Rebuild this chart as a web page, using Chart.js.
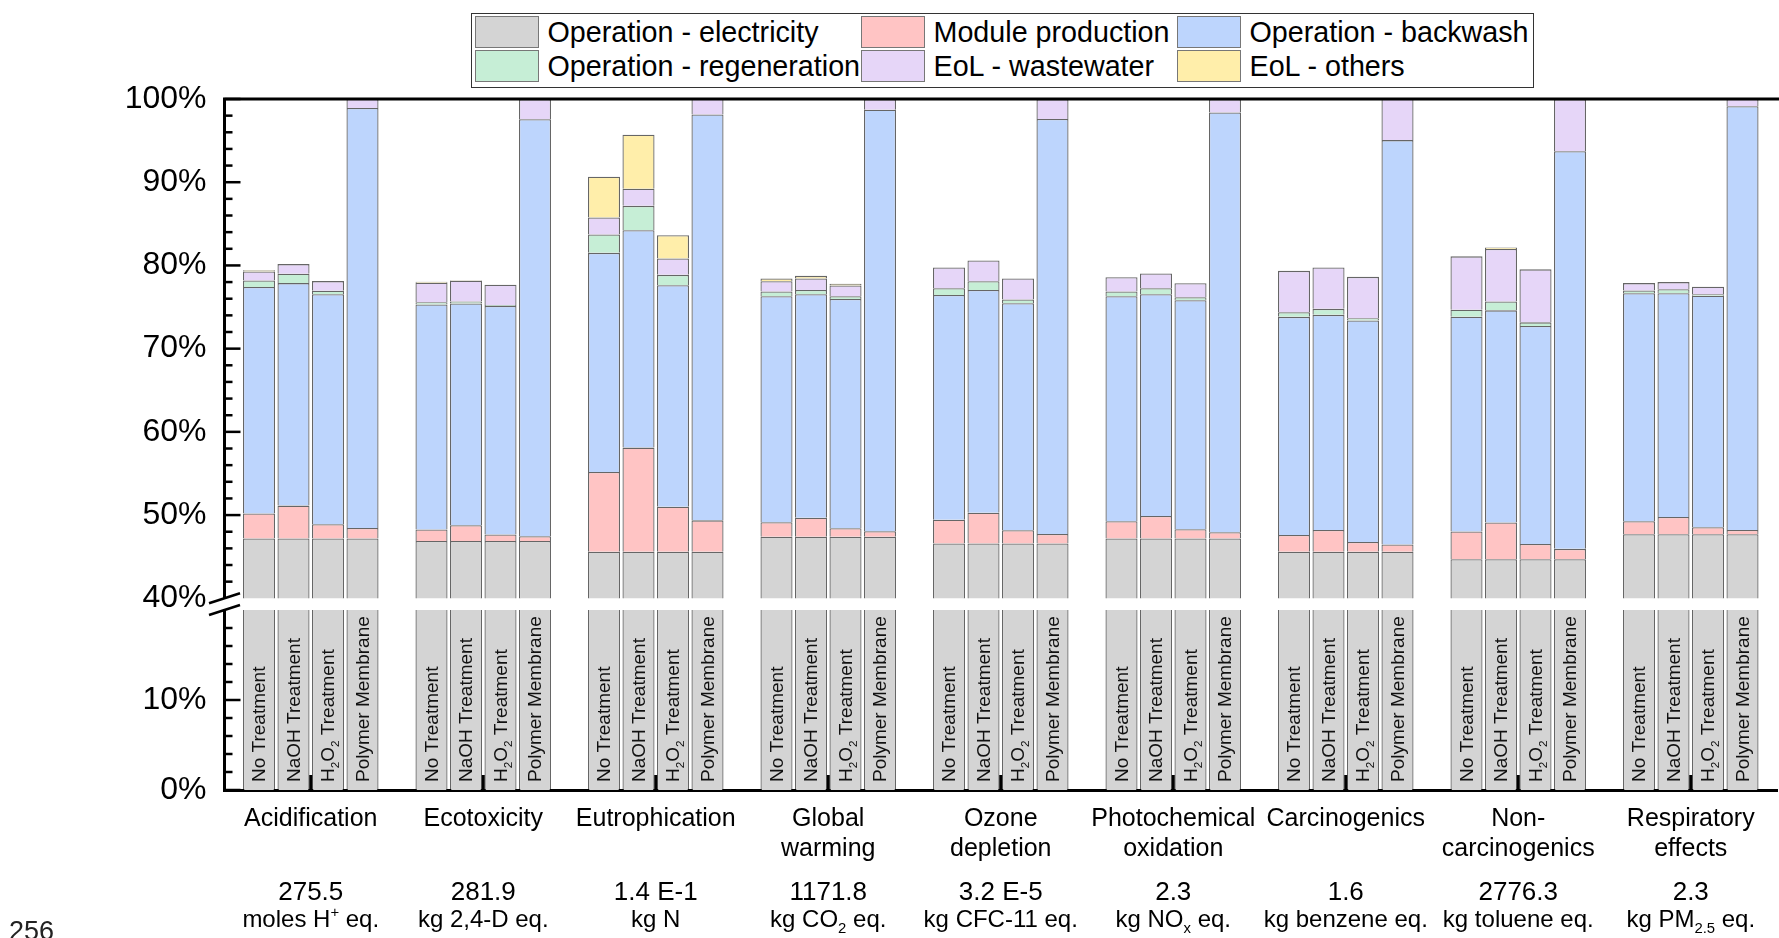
<!DOCTYPE html>
<html>
<head>
<meta charset="utf-8">
<script src="https://cdn.jsdelivr.net/npm/chart.js@4.4.1/dist/chart.umd.min.js"></script>
<style>
  html, body { margin: 0; padding: 0; background: #fff; }
  body { width: 1779px; height: 938px; position: relative; overflow: hidden; font-family: 'Liberation Sans', Arial, sans-serif; }
  #topChart { position: absolute; left: 0; top: 0; }
  #bottomChart { position: absolute; left: 0; top: 560px; }
  .legend { position: absolute; left: 471px; top: 13px; width: 1063px; height: 75px; border: 1.5px solid #333; box-sizing: border-box; background: #fff; }
  .legend .sw { position: absolute; width: 64px; height: 32px; border: 1.5px solid #777; box-sizing: border-box; }
  .legend .tx { position: absolute; font-size: 28.7px; line-height: 33px; color: #000; white-space: nowrap; }
  .page-no { position: absolute; left: 9px; top: 918px; font-size: 27px; line-height: 27px; color: #222; }
</style>
</head>
<body>
<canvas id="topChart" width="1779" height="640"></canvas>
<canvas id="bottomChart" width="1779" height="378"></canvas>
<div class="legend" id="legend"></div>
<div class="page-no">256</div>
<script>
const FONT = "'Liberation Sans', Arial, sans-serif";
Chart.defaults.font.family = FONT;

const categories = [['Acidification'], ['Ecotoxicity'], ['Eutrophication'], ['Global', 'warming'], ['Ozone', 'depletion'],
    ['Photochemical', 'oxidation'], ['Carcinogenics'], ['Non-', 'carcinogenics'], ['Respiratory', 'effects']];
const totals = ['275.5', '281.9', '1.4 E-1', '1171.8', '3.2 E-5', '2.3', '1.6', '2776.3', '2.3'];
const units = ['moles H<sup>+</sup> eq.', 'kg 2,4-D eq.', 'kg N', 'kg CO<sub>2</sub> eq.', 'kg CFC-11 eq.',
    'kg NO<sub>x</sub> eq.', 'kg benzene eq.', 'kg toluene eq.', 'kg PM<sub>2.5</sub> eq.'];
const treatments = ['No Treatment', 'NaOH Treatment', 'H<sub>2</sub>O<sub>2</sub> Treatment', 'Polymer Membrane'];
const components = ['Operation - electricity', 'Module production', 'Operation - backwash',
    'Operation - regeneration', 'EoL - wastewater', 'EoL - others'];
const colors = ['#d4d4d4', '#ffc4c4', '#bdd5fd', '#c6eed6', '#e6d6f8', '#ffeeaa'];

// share in % ; one row per impact category, one column per treatment
const electricity = [
    [47.2, 47.2, 47.2, 47.2], [46.9, 46.9, 46.9, 46.9], [45.6, 45.6, 45.6, 45.6],
    [47.4, 47.4, 47.4, 47.4], [46.6, 46.6, 46.6, 46.6], [47.2, 47.2, 47.2, 47.2],
    [45.6, 45.6, 45.6, 45.6], [44.7, 44.7, 44.7, 44.7], [47.7, 47.7, 47.7, 47.7]];
const moduleProduction = [
    [3.0, 3.94, 1.7, 1.26], [1.37, 1.89, 0.77, 0.57], [9.58, 12.51, 5.41, 3.77],
    [1.73, 2.29, 1.01, 0.65], [2.85, 3.69, 1.57, 1.13], [2.05, 2.69, 1.09, 0.73],
    [2.01, 2.61, 1.16, 0.88], [3.33, 4.41, 1.84, 1.24], [1.56, 2.08, 0.84, 0.52]];
const backwash = [
    [27.2, 26.74, 27.65, 50.46], [27.05, 26.65, 27.45, 50.1], [26.33, 26.13, 26.62, 48.78],
    [27.17, 26.85, 27.57, 50.66], [27.01, 26.77, 27.29, 49.86], [27.05, 26.65, 27.53, 50.46],
    [26.21, 25.85, 26.62, 48.58], [25.81, 25.49, 26.18, 47.78], [27.41, 26.89, 27.81, 50.9]];
const regeneration = [
    [0.8, 1.12, 0.4, 0], [0.25, 0.24, 0.12, 0], [2.21, 2.92, 1.24, 0],
    [0.56, 0.52, 0.32, 0], [0.8, 1.05, 0.44, 0], [0.56, 0.72, 0.36, 0],
    [0.56, 0.72, 0.28, 0], [0.84, 1.08, 0.44, 0], [0.32, 0.48, 0.2, 0]];
const wastewater = [
    [1.08, 1.16, 1.17, 1.08], [2.36, 2.49, 2.45, 2.4], [2.04, 2.05, 1.96, 1.88],
    [1.25, 1.37, 1.29, 1.28], [2.49, 2.48, 2.53, 2.4], [1.73, 1.77, 1.69, 1.6],
    [4.97, 4.97, 4.97, 4.97], [6.41, 6.29, 6.37, 6.25], [0.89, 0.85, 0.88, 0.88]];
const others = [
    [0.15, 0, 0, 0], [0.12, 0.05, 0, 0], [4.89, 6.49, 2.81, 0],
    [0.32, 0.32, 0.2, 0], [0, 0, 0, 0], [0, 0, 0, 0],
    [0, 0, 0, 0], [0, 0.2, 0, 0], [0, 0, 0, 0]];
const shares = [electricity, moduleProduction, backwash, regeneration, wastewater, others];

function makeDatasets() {
    const list = [];
    treatments.forEach((t, ti) => {
        shares.forEach((rows, ci) => {
            list.push({
                label: components[ci],
                stack: 's' + ti,
                data: rows.map(r => r[ti]),
                backgroundColor: colors[ci],
                borderColor: 'rgba(0,0,0,0.6)',
                borderWidth: 1.3,
                clip: 0
            });
        });
    });
    return list;
}

// legend (3 columns x 2 rows)
const legendEl = document.getElementById('legend');
const colX = [2.5, 388.5, 704.5];
const rowY = [1.5, 36];
components.forEach((name, i) => {
    const c = i % 3, r = Math.floor(i / 3);
    const sw = document.createElement('div');
    sw.className = 'sw';
    sw.style.left = colX[c] + 'px';
    sw.style.top = rowY[r] + 'px';
    sw.style.background = colors[i];
    const tx = document.createElement('div');
    tx.className = 'tx';
    tx.style.left = (colX[c] + 73) + 'px';
    tx.style.top = rowY[r] + 'px';
    tx.textContent = name;
    legendEl.appendChild(sw);
    legendEl.appendChild(tx);
});

// text with <sub>/<sup> parts
function parseRich(str) {
    const parts = [];
    const re = /<(sub|sup)>(.*?)<\/\1>/g;
    let last = 0, m;
    while ((m = re.exec(str))) {
        if (m.index > last) parts.push({ text: str.slice(last, m.index), mode: '' });
        parts.push({ text: m[2], mode: m[1] });
        last = re.lastIndex;
    }
    if (last < str.length) parts.push({ text: str.slice(last), mode: '' });
    return parts;
}
function drawRich(ctx, str, x, y, size, align) {
    const parts = parseRich(str);
    const fontOf = p => (p.mode ? size * 0.62 : size) + 'px ' + FONT;
    const widths = parts.map(p => { ctx.font = fontOf(p); return ctx.measureText(p.text).width; });
    const total = widths.reduce((a, b) => a + b, 0);
    let cx = align === 'center' ? x - total / 2 : x;
    ctx.textAlign = 'left';
    ctx.textBaseline = 'alphabetic';
    parts.forEach((p, i) => {
        ctx.font = fontOf(p);
        const dy = p.mode === 'sub' ? size * 0.28 : (p.mode === 'sup' ? -size * 0.38 : 0);
        ctx.fillText(p.text, cx, y + dy);
        cx += widths[i];
    });
}

const decor = {
    id: 'decor',
    afterDraw(chart, args, opts) {
        const { ctx, chartArea: a } = chart;
        const x = chart.scales.x, y = chart.scales.y;
        ctx.save();
        ctx.strokeStyle = '#000';
        ctx.fillStyle = '#000';
        ctx.lineWidth = 2.5;
        // inward ticks on the y axis
        for (let v = y.min; v <= y.max; v += 2) {
            if (opts.part === 'top' && v === y.min) continue;
            if (opts.part === 'bottom' && v === y.max) continue;
            const py = y.getPixelForValue(v);
            const len = v % 10 === 0 ? 16 : 8;
            ctx.beginPath(); ctx.moveTo(a.left, py); ctx.lineTo(a.left + len, py); ctx.stroke();
        }
        // axis break mark
        const by = opts.part === 'top' ? a.bottom : a.top;
        ctx.beginPath(); ctx.moveTo(a.left - 15.5, by + 5); ctx.lineTo(a.left + 15.5, by - 5); ctx.stroke();

        if (opts.part === 'top') {
            ctx.lineWidth = 3;
            ctx.beginPath(); ctx.moveTo(a.left - 1.5, a.top); ctx.lineTo(chart.width, a.top); ctx.stroke();
        } else {
            // category ticks pointing inside
            ctx.lineWidth = 3;
            categories.forEach((c, i) => {
                const px = x.getPixelForValue(i);
                ctx.beginPath(); ctx.moveTo(px, a.bottom); ctx.lineTo(px, a.bottom - 15); ctx.stroke();
            });
            // treatment names inside the bars
            ctx.fillStyle = '#111';
            treatments.forEach((t, ti) => {
                const meta = chart.getDatasetMeta(ti * shares.length);
                meta.data.forEach(bar => {
                    ctx.save();
                    ctx.translate(bar.x + 6, a.bottom - 8);
                    ctx.rotate(-Math.PI / 2);
                    drawRich(ctx, t, 0, 0, 19, 'left');
                    ctx.restore();
                });
            });
            // totals and units under the category names
            ctx.fillStyle = '#000';
            categories.forEach((c, i) => {
                const px = x.getPixelForValue(i);
                drawRich(ctx, totals[i], px, a.bottom + 110, 26, 'center');
                drawRich(ctx, units[i], px, a.bottom + 136.5, 24, 'center');
            });
        }
        ctx.restore();
    }
};

const yTicks = { stepSize: 10, padding: 18, color: '#000', font: { family: FONT, size: 32 }, callback: v => v + '%' };

new Chart(document.getElementById('topChart'), {
    type: 'bar',
    data: { labels: categories, datasets: makeDatasets() },
    options: {
        responsive: false,
        animation: false,
        layout: { padding: { top: 99, bottom: 41.7, left: 0, right: 2 } },
        datasets: { bar: { categoryPercentage: 0.8, barPercentage: 0.93 } },
        plugins: { legend: { display: false }, tooltip: { enabled: false }, decor: { part: 'top' } },
        scales: {
            x: { stacked: true, display: false },
            y: {
                stacked: true, min: 40, max: 100,
                afterFit: s => { s.width = 224.5; },
                grid: { display: false, drawTicks: false },
                border: { display: true, color: '#000', width: 3 },
                ticks: yTicks
            }
        }
    },
    plugins: [decor]
});

new Chart(document.getElementById('bottomChart'), {
    type: 'bar',
    data: { labels: categories, datasets: makeDatasets() },
    options: {
        responsive: false,
        animation: false,
        layout: { padding: { top: 50, bottom: 0, left: 0, right: 2 } },
        datasets: { bar: { categoryPercentage: 0.8, barPercentage: 0.93 } },
        plugins: { legend: { display: false }, tooltip: { enabled: false }, decor: { part: 'bottom' } },
        scales: {
            x: {
                stacked: true,
                afterFit: s => { s.height = 148; },
                grid: { display: false, drawTicks: false },
                border: { display: true, color: '#000', width: 3 },
                ticks: { color: '#000', padding: 14, maxRotation: 0, minRotation: 0, autoSkip: false,
                    font: { family: FONT, size: 25, lineHeight: 1.2 } }
            },
            y: {
                stacked: true, min: 0, max: 20,
                afterFit: s => { s.width = 224.5; },
                afterBuildTicks: s => { s.ticks = s.ticks.filter(t => t.value < 20); },
                grid: { display: false, drawTicks: false },
                border: { display: true, color: '#000', width: 3 },
                ticks: yTicks
            }
        }
    },
    plugins: [decor]
});
</script>
</body>
</html>
